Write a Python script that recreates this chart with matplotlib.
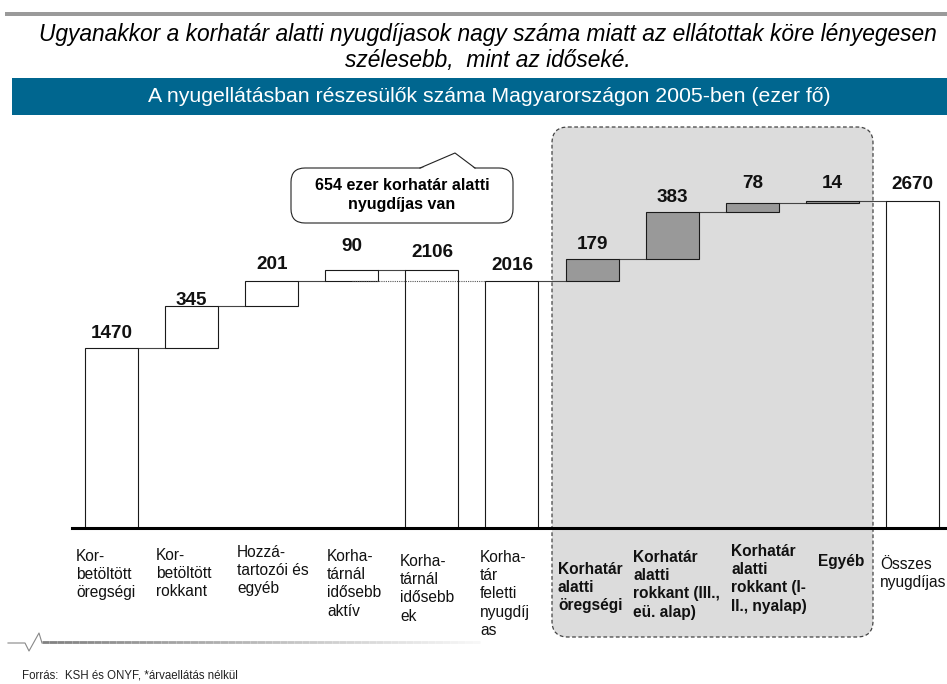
import matplotlib as mpl
mpl.use('Agg')
from matplotlib import pyplot as plt
from matplotlib.patches import FancyBboxPatch, Rectangle, Polygon
from matplotlib.collections import LineCollection
import numpy as np

plt.rcParams['font.family'] = ['Liberation Sans', 'DejaVu Sans']

# data
categories = ['Kor-\nbetöltött\nöregségi', 'Kor-\nbetöltött\nrokkant', 'Hozzá-\ntartozói és\negyéb',
              'Korha-\ntárnál\nidősebb\naktív', 'Korha-\ntárnál\nidősebb\nek',
              'Korha-\ntár\nfeletti\nnyugdíj\nas', 'Korhatár\nalatti\nöregségi',
              'Korhatár\nalatti\nrokkant (III.,\neü. alap)', 'Korhatár\nalatti\nrokkant (I-\nII., nyalap)',
              'Egyéb', 'Összes\nnyugdíjas']
values = [1470, 345, 201, 90, 2106, 2016, 179, 383, 78, 14, 2670]
is_total = [True, False, False, False, True, True, False, False, False, False, True]
highlight = [False, False, False, False, False, False, True, True, True, True, False]

title1 = 'Ugyanakkor a korhatár alatti nyugdíjasok nagy száma miatt az ellátottak köre lényegesen'
title2 = 'szélesebb,  mint az időseké.'
header = 'A nyugellátásban részesülők száma Magyarországon 2005-ben (ezer fő)'
callout = '654 ezer korhatár alatti\nnyugdíjas van'
source = 'Forrás:  KSH és ONYF, *árvaellátás nélkül'

# waterfall bottoms
bottoms = []
level = 0
for v, t in zip(values, is_total):
    if t:
        bottoms.append(0)
        level = v
    else:
        bottoms.append(level)
        level += v
bottoms = np.array(bottoms)
tops = bottoms + np.array(values)

W, H = 947, 684
fig = plt.figure(figsize=(W / 100, H / 100), dpi=100)

# background axes in pixel units
bg = fig.add_axes([0, 0, 1, 1], zorder=0)
bg.set_xlim(0, W)
bg.set_ylim(H, 0)
bg.axis('off')

# chart axes
ax = fig.add_axes([72 / W, (H - 528) / H, 875 / W, 408 / H], zorder=1)
ax.patch.set_alpha(0)
ax.set_xlim(-0.493, 10.431)
ax.set_ylim(0, 3332)
ax.axis('off')

x = np.arange(len(values))
w = 0.662
colors = ['#999999' if h else 'white' for h in highlight]
ax.bar(x, values, w, bottom=bottoms, color=colors, edgecolor='#1a1a1a', linewidth=0.8, zorder=3)

# connectors
for i in range(len(values) - 1):
    if is_total[i + 1] and tops[i] != values[i + 1]:
        # dotted line at the next total's level, drawn through the bar
        ax.plot([x[i - 1], x[i + 1] - w / 2], [values[i + 1]] * 2, color='#555555', lw=0.8,
                ls=(0, (1, 1)), zorder=3.5)
        continue
    ax.plot([x[i] + w / 2, x[i + 1] - w / 2], [tops[i]] * 2, color='#444444', lw=0.8, zorder=2)

ax.axhline(0, color='black', lw=2.2, zorder=4, clip_on=False)

# value labels
lab_off = [10, 1, 12, 19, 13, 11, 10, 10, 15, 13, 12]
for i, v in enumerate(values):
    ax.annotate(str(v), (x[i], tops[i]), xytext=(0, lab_off[i] * 0.72), textcoords='offset points',
                ha='center', va='baseline', fontsize=13.6, fontweight='bold', color='#111111', zorder=5)

# header
bg.add_patch(Rectangle((5, 12), 942, 4, fc='#9a9a9a', ec='none'))
bg.text(488, 35, title1, ha='center', va='center', fontsize=16.4, style='italic', color='black')
bg.text(488, 61, title2, ha='center', va='center', fontsize=16.4, style='italic', color='black')
bg.add_patch(Rectangle((12, 78), 935, 37, fc='#00668f', ec='none'))
bg.text(489, 96.5, header, ha='center', va='center', fontsize=15.3, color='white')

# shaded group
bg.add_patch(FancyBboxPatch((552, 127), 321, 510, boxstyle='round,pad=0,rounding_size=16',
                            fc='#dcdcdc', ec='#444444', lw=0.9, ls=(0, (3, 2)), zorder=1))

# callout
bg.add_patch(FancyBboxPatch((291, 168), 222, 55, boxstyle='round,pad=0,rounding_size=14',
                            fc='white', ec='#222222', lw=0.8, zorder=2))
bg.add_patch(Polygon([(420, 169), (455, 153), (475, 169)], closed=True, fc='white', ec='none', zorder=3))
bg.plot([420, 455, 475], [168, 153, 168], color='#222222', lw=0.8, zorder=4)
bg.text(402, 195, callout, ha='center', va='center', fontsize=11.5, fontweight='bold',
        linespacing=1.25, zorder=5)

# category labels (x in px, top y in px)
lab_x = [76, 156, 237, 327, 400, 480, 558, 633, 731, 818, 880]
lab_y = [549, 548, 545, 549, 554, 550, 562, 550, 544, 554, 557]
for i, c in enumerate(categories):
    bg.text(lab_x[i], lab_y[i], c, ha='left', va='top', fontsize=11.2,
            fontweight='bold' if highlight[i] else 'normal', linespacing=1.27, zorder=5, color='#111111')

# footer
bg.plot([8, 25, 29, 39, 42], [643, 643, 651, 633, 643], color='#888888', lw=0.8)
fx = np.linspace(42, 480, 60)
segs = [[(fx[k], 642), (fx[k + 1], 642)] for k in range(len(fx) - 1)]
shades = np.linspace(0.5, 0.97, len(segs))
bg.add_collection(LineCollection(segs, colors=[(s, s, s) for s in shades], lw=2))
bg.text(22, 676, source, ha='left', va='center', fontsize=8.3, color='#222222')

fig.savefig('out.png', dpi=100)
